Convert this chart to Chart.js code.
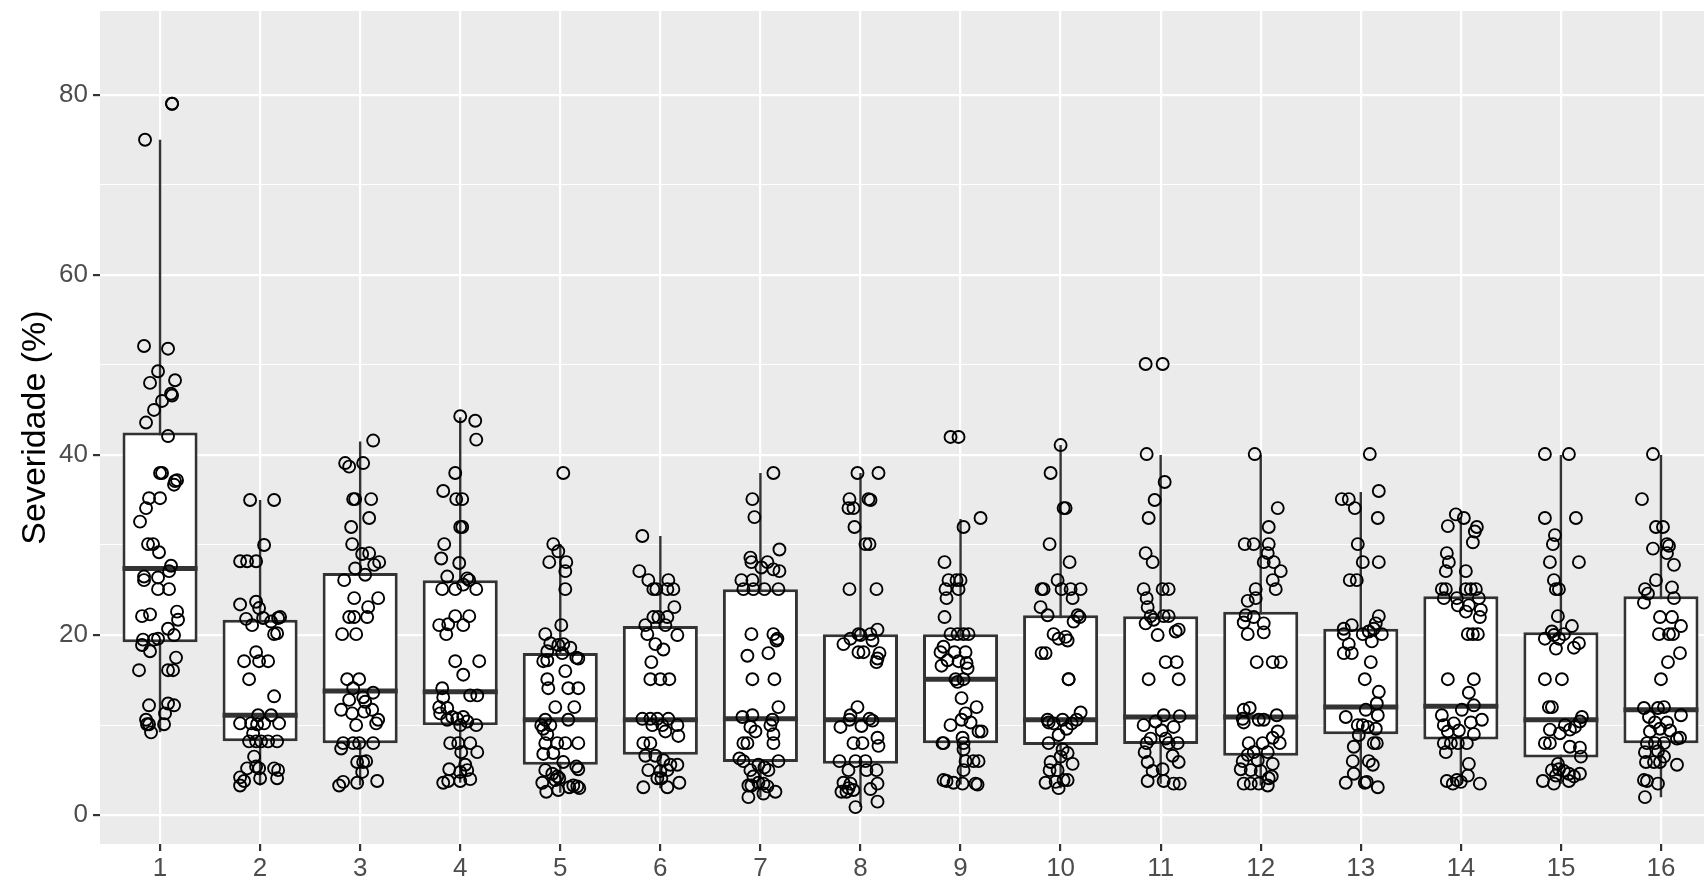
<!DOCTYPE html>
<html>
<head>
<meta charset="utf-8">
<script src="https://cdn.jsdelivr.net/npm/chart.js@4"></script>
<style>
  html, body { margin: 0; padding: 0; background: #ffffff; }
  #wrap { width: 1704px; height: 881px; }
</style>
</head>
<body>
<div id="wrap"><canvas id="boxChart" width="1704" height="881"></canvas></div>
<script>
// categories (x axis) and box statistics
const categories = [1, 2, 3, 4, 5, 6, 7, 8, 9, 10, 11, 12, 13, 14, 15, 16];
const whiskerLow  = [9.2, 3.3, 3.3, 3.6, 2.5, 3.0, 2.0, 0.9, 3.4, 3.0, 3.5, 3.3, 3.1, 3.5, 3.5, 2.0];
const q1          = [19.2, 8.2, 8.0, 10.0, 5.6, 6.7, 5.9, 5.7, 8.0, 7.8, 7.9, 6.6, 9.0, 8.4, 6.4, 8.0];
const median      = [27.4, 11.1, 13.8, 13.7, 10.6, 10.6, 10.7, 10.6, 15.1, 10.6, 10.9, 10.9, 12.0, 12.1, 10.6, 11.7];
const q3          = [42.5, 21.7, 26.9, 26.1, 18.0, 21.0, 25.1, 20.1, 20.1, 22.2, 22.1, 22.6, 20.7, 24.3, 20.3, 24.3];
const whiskerHigh = [75.0, 35.0, 41.5, 44.2, 30.1, 31.0, 38.0, 38.0, 32.9, 41.1, 40.0, 40.0, 35.9, 33.1, 40.0, 40.0];

const yMajor = [0, 20, 40, 60, 80];
const yMinor = [10, 30, 50, 70];

// jittered observations per category: [offset from category, severity %]
const obs1 = [[0.12,79],[0.12,79.0],[-0.15,75],[-0.16,52.1],[0.08,51.8],[-0.02,49.3],[-0.10,48.0],[0.15,48.3],[0.11,46.8],[0.12,46.6],[0.02,46.0],[-0.06,45.0],[-0.14,43.6],[0.08,42.1],[0.02,38.0],[0.0,38.0],[0.15,37.1],[0.14,36.7],[0.17,37.2],[-0.11,35.2],[0.0,35.2],[-0.14,34.1],[-0.20,32.6],[-0.12,30.1],[-0.07,30.1],[-0.01,29.2],[0.11,27.7],[0.09,27.1],[-0.16,26.5],[-0.16,26.1],[-0.02,26.4],[-0.02,25.1],[0.09,25.1],[-0.18,22.1],[-0.10,22.3],[0.17,22.6],[0.18,21.7],[0.08,20.7],[0.14,20.0],[-0.02,19.6],[-0.06,19.5],[-0.17,19.5],[-0.18,18.9],[-0.10,18.2],[0.16,17.5],[-0.21,16.1],[0.08,16.1],[0.13,16.1],[-0.11,12.2],[0.08,12.4],[0.14,12.2],[0.05,11.3],[-0.14,10.6],[-0.11,10.1],[-0.09,9.2],[-0.13,10.1],[0.04,10.1]];
const obs2 = [[-0.10,35.0],[0.14,35.0],[0.04,30.0],[-0.20,28.2],[-0.13,28.2],[-0.04,28.2],[-0.20,23.4],[-0.04,23.7],[-0.01,23.0],[-0.14,21.8],[-0.08,21.1],[0.03,21.9],[0.11,21.5],[0.18,21.9],[0.20,22.0],[0.14,20.1],[0.17,20.2],[-0.04,18.1],[-0.16,17.1],[-0.01,17.1],[0.08,17.1],[-0.11,15.1],[0.14,13.2],[-0.20,10.2],[-0.09,10.2],[-0.03,10.1],[0.04,10.2],[0.11,11.1],[0.19,10.2],[-0.02,11.1],[-0.07,9.1],[-0.11,8.2],[-0.04,8.2],[0.08,8.2],[0.17,8.2],[0.01,8.2],[-0.06,6.5],[-0.04,5.4],[0.14,5.2],[0.18,5.0],[-0.13,5.2],[-0.01,5.2],[-0.20,4.2],[-0.16,3.8],[-0.20,3.3],[0.0,4.1],[0.17,4.1]];
const obs3 = [[0.13,41.6],[-0.15,39.1],[-0.11,38.7],[0.03,39.1],[-0.07,35.1],[-0.05,35.1],[0.11,35.1],[0.09,33.0],[-0.09,32.0],[-0.08,30.1],[0.02,29.0],[0.09,29.1],[0.14,27.8],[0.19,28.1],[-0.05,27.4],[0.05,26.7],[-0.16,26.1],[-0.06,24.1],[0.18,24.1],[0.08,23.1],[-0.11,22.0],[-0.06,22.0],[0.07,22.0],[-0.18,20.1],[-0.04,20.1],[-0.13,15.1],[-0.01,15.1],[-0.07,14.1],[0.13,13.6],[0.03,13.1],[-0.11,12.8],[0.05,12.6],[-0.19,11.7],[-0.08,11.3],[0.12,11.7],[0.04,11.5],[0.18,10.6],[0.16,10.2],[-0.04,10.0],[-0.17,8.0],[-0.07,8.0],[-0.01,8.0],[0.13,8.0],[-0.19,7.4],[-0.03,5.9],[0.03,5.9],[0.06,6.0],[0.02,4.8],[-0.21,3.3],[-0.17,3.7],[-0.03,3.6],[0.17,3.8]];
const obs4 = [[0.0,44.3],[0.15,43.8],[0.16,41.7],[-0.05,38.0],[-0.17,36.0],[-0.04,35.1],[0.02,35.1],[0.0,32.0],[0.02,32.0],[-0.16,30.1],[-0.19,28.5],[-0.01,28.0],[-0.13,26.5],[0.07,26.3],[0.09,26.1],[-0.18,25.1],[-0.05,25.1],[0.03,25.6],[0.16,25.1],[-0.05,22.1],[0.09,22.1],[-0.12,21.2],[0.03,21.1],[-0.21,21.1],[-0.14,20.1],[-0.05,17.1],[0.19,17.1],[0.03,15.6],[-0.18,14.1],[-0.17,13.1],[0.10,13.3],[0.17,13.3],[-0.21,12.0],[-0.13,11.9],[-0.20,11.3],[-0.08,10.9],[-0.03,10.7],[0.03,10.9],[-0.13,10.6],[0.07,10.4],[0.16,10.0],[0.0,10.0],[-0.10,8.0],[-0.02,8.0],[0.10,8.0],[0.17,7.0],[0.01,7.0],[-0.11,5.1],[0.05,5.6],[0.0,4.8],[0.07,5.0],[-0.17,3.6],[-0.12,3.8],[0.0,3.8],[0.10,4.0]];
const obs5 = [[0.03,38.0],[-0.07,30.1],[-0.02,29.3],[-0.11,28.1],[0.06,28.1],[0.05,27.1],[0.05,25.1],[0.01,21.1],[-0.15,20.1],[-0.10,19.1],[-0.02,18.9],[0.03,19.0],[0.10,18.6],[-0.13,18.2],[0.02,18.0],[0.16,17.5],[0.18,17.4],[-0.17,17.1],[-0.13,17.2],[0.05,16.0],[-0.13,15.1],[-0.12,14.1],[0.08,14.1],[0.18,14.1],[-0.05,12.0],[0.14,12.0],[-0.19,10.0],[-0.15,10.6],[-0.10,10.0],[0.08,10.6],[-0.17,9.6],[-0.13,9.0],[-0.15,8.0],[-0.03,8.0],[0.05,8.0],[0.18,8.0],[-0.17,6.8],[-0.07,6.9],[0.03,5.9],[0.16,5.4],[0.18,5.1],[-0.15,5.0],[-0.08,4.6],[-0.03,4.3],[-0.01,4.1],[-0.05,3.9],[-0.18,3.6],[0.13,3.3],[0.17,3.2],[0.19,3.0],[-0.14,2.6],[-0.02,2.8],[0.09,3.1]];
const obs6 = [[-0.18,31.0],[-0.21,27.1],[-0.12,26.1],[-0.07,25.1],[-0.04,25.1],[0.08,26.1],[0.07,25.1],[0.13,25.1],[0.14,23.1],[-0.07,22.0],[-0.02,22.0],[0.07,22.0],[-0.15,21.1],[0.05,21.1],[-0.13,20.1],[0.17,20.0],[-0.05,19.0],[0.03,18.4],[-0.09,17.0],[-0.10,15.1],[0.0,15.1],[0.09,15.1],[-0.18,10.7],[-0.10,10.7],[-0.03,10.7],[0.08,10.7],[0.17,10.0],[-0.08,10.0],[0.02,10.0],[0.05,9.3],[0.18,8.8],[-0.17,8.0],[-0.10,8.0],[-0.15,6.6],[-0.05,6.6],[0.03,6.1],[0.17,5.6],[0.10,5.6],[-0.12,5.0],[0.0,4.9],[0.07,5.0],[-0.03,4.1],[0.01,4.1],[0.19,3.6],[-0.17,3.1],[0.07,3.1]];
const obs7 = [[0.13,38.0],[-0.08,35.1],[-0.06,33.1],[0.19,29.5],[-0.10,28.6],[-0.09,28.1],[0.07,28.1],[0.01,27.5],[0.13,27.3],[0.19,27.1],[-0.19,26.1],[-0.08,26.1],[-0.17,25.1],[-0.07,25.1],[0.04,25.1],[0.18,25.1],[-0.09,20.1],[0.13,20.1],[0.16,19.4],[0.17,19.6],[-0.13,17.7],[0.08,18.0],[-0.08,15.1],[0.14,15.1],[0.18,12.0],[-0.18,10.9],[-0.08,11.1],[0.12,10.6],[-0.10,9.8],[-0.05,9.3],[0.10,10.0],[0.13,9.0],[-0.17,8.0],[-0.13,8.0],[0.13,8.0],[-0.21,6.3],[-0.17,6.0],[-0.02,5.6],[0.18,6.0],[0.04,5.3],[-0.10,5.0],[0.08,5.0],[-0.07,4.3],[-0.02,3.6],[0.03,3.5],[-0.12,3.3],[-0.09,3.3],[0.07,3.2],[0.15,2.6],[0.03,2.4],[-0.12,2.0]];
const obs8 = [[-0.03,38.0],[0.18,38.0],[-0.11,35.1],[0.08,35.1],[0.10,35.0],[-0.12,34.1],[-0.07,34.1],[-0.06,32.0],[0.05,30.1],[0.09,30.1],[-0.11,25.1],[0.16,25.1],[0.17,20.6],[-0.02,20.1],[0.0,20.0],[0.10,20.1],[-0.10,19.6],[-0.17,19.0],[0.12,19.4],[-0.02,18.1],[0.03,18.1],[0.19,18.0],[0.17,17.4],[0.16,17.0],[-0.03,12.0],[-0.10,11.1],[0.09,10.7],[0.12,10.5],[-0.20,9.8],[-0.11,10.6],[0.01,9.9],[0.17,8.6],[0.18,7.7],[-0.07,8.0],[0.02,8.0],[-0.21,6.0],[-0.05,6.0],[0.05,6.0],[-0.12,5.0],[0.06,5.0],[0.16,5.0],[-0.17,3.6],[-0.10,3.5],[-0.12,3.0],[-0.19,2.6],[-0.14,2.6],[-0.07,2.8],[0.10,2.9],[0.17,3.5],[0.17,1.5],[-0.05,0.9]];
const obs9 = [[-0.10,42.0],[-0.02,42.0],[0.20,33.0],[0.03,32.0],[-0.16,28.1],[-0.12,26.1],[-0.04,26.1],[0.0,26.1],[-0.15,25.1],[-0.02,25.1],[-0.14,24.1],[-0.16,22.0],[-0.10,20.1],[-0.03,20.1],[0.03,20.1],[0.08,20.1],[-0.17,18.7],[-0.20,18.1],[-0.06,18.1],[0.05,18.1],[-0.13,17.2],[-0.02,17.1],[0.06,16.9],[-0.19,16.6],[0.07,16.3],[-0.05,15.1],[-0.03,14.8],[0.03,15.1],[0.01,13.0],[0.16,12.0],[0.05,11.3],[0.01,10.6],[0.10,10.3],[-0.10,10.0],[0.18,9.3],[0.21,9.3],[0.02,8.6],[-0.18,8.0],[-0.17,8.0],[0.03,8.0],[0.03,7.3],[0.13,6.0],[0.18,6.0],[0.05,6.0],[0.03,5.0],[-0.17,3.9],[-0.14,3.8],[-0.07,3.6],[0.02,3.5],[0.15,3.5],[0.17,3.4]];
const obs10 = [[0.0,41.1],[-0.10,38.0],[0.03,34.1],[0.05,34.1],[-0.11,30.1],[0.09,28.1],[-0.03,26.1],[-0.19,25.1],[-0.17,25.1],[0.01,25.1],[0.10,25.1],[0.20,25.1],[0.12,24.1],[-0.20,23.1],[-0.13,22.2],[0.17,22.2],[0.19,22.0],[0.13,21.5],[-0.07,20.1],[-0.02,19.6],[0.05,19.8],[0.07,19.4],[-0.19,18.0],[-0.15,18.0],[0.08,15.1],[0.08,15.1],[0.20,11.4],[-0.12,10.3],[-0.13,10.6],[-0.07,10.2],[0.02,10.6],[0.11,10.2],[0.16,10.6],[0.06,9.6],[-0.02,8.9],[-0.12,8.0],[0.02,7.3],[0.07,6.9],[0.0,6.5],[0.12,5.7],[-0.10,5.9],[-0.11,5.0],[-0.03,5.0],[0.03,3.9],[0.07,3.9],[-0.15,3.6],[-0.05,3.7],[-0.02,3.0]];
const obs11 = [[-0.15,50.1],[0.02,50.1],[-0.14,40.1],[0.04,37.0],[-0.06,35.0],[-0.12,33.0],[-0.15,29.1],[-0.08,28.1],[-0.17,25.1],[0.02,25.1],[0.08,25.1],[-0.14,24.1],[-0.13,23.1],[-0.10,22.1],[-0.07,21.7],[-0.15,21.3],[0.03,22.1],[0.08,22.1],[0.18,20.6],[0.15,20.4],[-0.03,20.0],[0.05,17.0],[0.16,17.0],[-0.12,15.1],[0.18,15.1],[0.03,11.1],[0.19,11.0],[-0.17,10.0],[-0.05,10.4],[0.01,9.4],[0.13,9.8],[-0.10,8.5],[-0.14,8.0],[0.05,8.5],[0.17,8.0],[0.08,8.0],[-0.16,7.0],[0.12,6.6],[-0.13,5.9],[0.18,5.9],[0.02,5.1],[-0.08,4.9],[-0.13,3.8],[0.03,3.8],[0.13,3.5],[0.19,3.5]];
const obs12 = [[-0.06,40.1],[0.17,34.1],[0.08,32.0],[-0.16,30.1],[-0.07,30.1],[0.08,30.1],[0.07,29.1],[0.03,28.1],[0.13,28.1],[0.20,27.1],[0.12,26.1],[-0.05,25.1],[0.15,25.1],[-0.13,23.8],[-0.05,24.1],[-0.15,22.2],[-0.07,22.0],[-0.17,21.4],[0.03,21.3],[-0.13,20.1],[0.03,20.3],[-0.04,17.0],[0.12,17.0],[0.20,17.0],[-0.17,11.7],[-0.11,11.9],[-0.18,10.7],[-0.17,10.3],[-0.02,10.6],[0.03,10.6],[0.16,11.1],[0.17,9.3],[0.12,8.6],[0.19,8.0],[-0.12,8.0],[0.02,8.0],[-0.07,7.0],[0.07,7.0],[-0.13,6.7],[-0.18,6.0],[-0.03,6.1],[0.12,5.7],[-0.20,5.1],[-0.10,5.0],[0.0,4.9],[0.08,4.1],[-0.17,3.5],[-0.10,3.5],[-0.02,3.5],[0.07,3.3],[0.11,4.3]];
const obs13 = [[0.09,40.1],[0.18,36.0],[-0.19,35.1],[-0.12,35.1],[-0.06,34.1],[0.17,33.0],[-0.03,30.1],[0.02,28.1],[0.18,28.1],[-0.11,26.1],[-0.04,26.1],[0.18,22.1],[-0.09,21.1],[-0.17,20.7],[0.15,21.3],[0.13,20.7],[0.08,20.4],[0.02,20.1],[0.21,20.1],[-0.17,20.1],[0.11,19.3],[-0.12,19.0],[-0.17,18.0],[-0.09,18.0],[0.10,17.0],[0.04,15.1],[0.18,13.7],[0.16,12.4],[0.05,11.7],[-0.15,10.9],[0.17,11.1],[-0.03,10.0],[0.02,10.0],[0.07,9.8],[0.15,9.6],[-0.02,8.9],[0.13,8.0],[0.16,8.0],[-0.07,7.6],[-0.08,6.0],[0.08,6.0],[0.12,5.6],[-0.07,4.6],[-0.15,3.6],[0.04,3.6],[0.17,3.1],[0.06,3.7]];
const obs14 = [[-0.05,33.4],[0.03,33.0],[-0.13,32.1],[0.16,32.0],[0.14,31.5],[0.12,30.3],[-0.14,29.1],[-0.12,28.1],[-0.15,27.1],[0.05,27.1],[-0.19,25.1],[-0.15,25.1],[0.05,25.1],[0.10,25.1],[0.15,25.1],[-0.17,24.1],[-0.04,24.1],[0.18,24.1],[-0.03,23.3],[0.08,23.3],[0.20,22.8],[0.05,22.6],[0.19,22.0],[0.07,20.1],[0.12,20.1],[0.17,20.1],[-0.13,15.1],[0.13,15.1],[0.08,13.6],[0.13,12.2],[0.01,11.7],[-0.19,11.1],[0.21,10.6],[-0.17,10.0],[-0.07,10.2],[0.10,10.3],[-0.13,9.3],[-0.02,9.4],[0.13,9.0],[-0.17,8.0],[-0.10,8.0],[-0.03,8.0],[0.06,8.0],[-0.15,7.0],[0.08,5.7],[0.07,4.4],[-0.14,3.8],[-0.08,3.5],[0.0,3.7],[0.19,3.5],[-0.04,3.9]];
const obs15 = [[-0.16,40.1],[0.08,40.1],[-0.16,33.0],[0.15,33.0],[-0.06,31.1],[-0.08,30.1],[-0.11,28.1],[0.18,28.1],[-0.07,26.1],[-0.05,25.1],[-0.02,25.1],[-0.03,22.1],[0.11,21.0],[-0.09,20.4],[-0.16,19.6],[-0.07,20.0],[-0.02,19.6],[0.03,20.1],[0.18,19.1],[0.13,18.6],[-0.05,18.5],[-0.16,15.1],[0.01,15.1],[-0.12,12.0],[-0.09,12.0],[0.21,10.9],[0.19,10.4],[0.14,9.8],[0.04,10.0],[0.09,9.5],[-0.11,9.5],[-0.01,9.1],[-0.16,8.0],[-0.11,8.0],[0.09,7.6],[0.19,7.5],[0.20,6.5],[-0.03,5.7],[-0.09,5.0],[-0.02,5.1],[0.03,4.9],[0.19,4.6],[-0.05,4.4],[0.08,4.6],[0.13,4.3],[-0.18,3.8],[-0.07,3.5],[0.08,3.8]];
const obs16 = [[-0.08,40.1],[-0.19,35.1],[-0.05,32.0],[0.02,32.0],[-0.08,29.6],[0.06,30.1],[0.08,29.9],[0.06,29.1],[0.13,27.8],[-0.05,26.1],[-0.16,25.1],[-0.13,24.6],[-0.17,23.6],[0.11,25.3],[0.13,24.1],[-0.01,22.0],[0.11,22.0],[0.20,21.0],[-0.02,20.1],[0.08,20.1],[0.12,20.1],[0.19,18.0],[0.07,17.0],[0.0,15.1],[-0.17,11.9],[-0.03,11.9],[0.03,12.0],[-0.12,10.9],[0.20,11.1],[-0.06,10.3],[0.06,10.3],[-0.11,9.3],[-0.01,9.6],[0.09,9.4],[0.16,8.5],[0.19,8.6],[-0.14,8.0],[-0.06,8.0],[0.03,8.0],[-0.16,7.0],[-0.03,7.1],[-0.15,5.9],[-0.07,5.9],[-0.01,5.9],[0.03,6.5],[0.16,5.6],[-0.17,3.9],[-0.14,3.8],[-0.03,3.5],[-0.16,2.0]];

const observations = [obs1, obs2, obs3, obs4, obs5, obs6, obs7, obs8, obs9, obs10, obs11, obs12, obs13, obs14, obs15, obs16];

// build library data from the arrays above
const whiskerData = [];
categories.forEach((c, i) => {
    whiskerData.push({ x: c, y: whiskerLow[i] }, { x: c, y: whiskerHigh[i] }, { x: c, y: null });
});
const boxData = categories.map((c, i) => ({ x: c, y: [q1[i], q3[i]] }));
const medianData = categories.map((c, i) => ({ x: c, y: median[i] }));
const pointData = [];
categories.forEach((c, i) => {
    observations[i].forEach(([dx, v]) => pointData.push({ x: c + dx, y: v }));
});

const panelBackground = {
    id: 'panelBackground',
    beforeDraw(chart) {
        const { ctx, chartArea } = chart;
        ctx.save();
        ctx.fillStyle = '#EBEBEB';
        ctx.fillRect(chartArea.left, chartArea.top, chartArea.width, chartArea.height);
        ctx.restore();
    }
};

const fontFamily = "'Liberation Sans', Arial, sans-serif";
const tickFont = { family: fontFamily, size: 26 };
const isMajor = v => yMajor.includes(v);

// keep the panel where ggplot put it: no extra label padding around the axes
const noLabelPadding = scale => {
    scale.paddingTop = 0;
    scale.paddingBottom = 0;
    scale.paddingLeft = 0;
    scale.paddingRight = 0;
};

new Chart(document.getElementById('boxChart').getContext('2d'), {
    type: 'scatter',
    data: {
        datasets: [
            {
                type: 'scatter',
                data: pointData,
                order: 0,
                pointStyle: 'circle',
                pointRadius: 6,
                borderWidth: 1.9,
                borderColor: '#000000',
                backgroundColor: 'rgba(0,0,0,0)'
            },
            {
                type: 'scatter',
                data: medianData,
                order: 1,
                pointStyle: 'line',
                pointRadius: 37.5,
                borderWidth: 5,
                borderColor: '#333333'
            },
            {
                type: 'bar',
                data: boxData,
                order: 2,
                backgroundColor: '#FFFFFF',
                borderColor: '#333333',
                borderWidth: 3,
                borderSkipped: false,
                barPercentage: 0.75,
                categoryPercentage: 1.0
            },
            {
                type: 'line',
                data: whiskerData,
                order: 3,
                borderColor: '#333333',
                borderWidth: 2.4,
                pointRadius: 0,
                spanGaps: false,
                fill: false
            }
        ]
    },
    options: {
        responsive: false,
        animation: false,
        events: [],
        layout: { autoPadding: false, padding: { top: 11, left: 0, right: 0, bottom: 0 } },
        plugins: {
            legend: { display: false },
            tooltip: { enabled: false }
        },
        scales: {
            x: {
                type: 'linear',
                min: 0.4,
                max: 16.43,
                offset: false,
                afterBuildTicks: scale => { scale.ticks = categories.map(v => ({ value: v })); },
                afterFit: scale => { scale.height = 37; noLabelPadding(scale); },
                border: { display: false },
                grid: {
                    offset: false,
                    color: '#FFFFFF',
                    lineWidth: 2.2,
                    tickColor: '#333333',
                    tickWidth: 2.2,
                    tickLength: 7
                },
                ticks: {
                    color: '#4D4D4D',
                    font: tickFont,
                    padding: 2,
                    maxRotation: 0,
                    autoSkip: false
                }
            },
            y: {
                min: -3.2,
                max: 89.3,
                afterBuildTicks: scale => {
                    scale.ticks = yMajor.concat(yMinor).sort((a, b) => a - b).map(v => ({ value: v }));
                },
                afterFit: scale => { scale.width = 100; noLabelPadding(scale); },
                border: { display: false },
                grid: {
                    color: '#FFFFFF',
                    lineWidth: ctx => (isMajor(ctx.tick.value) ? 2.2 : 1.1),
                    tickColor: ctx => (isMajor(ctx.tick.value) ? '#333333' : 'rgba(0,0,0,0)'),
                    tickWidth: 2.2,
                    tickLength: 7
                },
                ticks: {
                    color: '#4D4D4D',
                    font: tickFont,
                    padding: 5,
                    autoSkip: false,
                    callback: v => (isMajor(v) ? String(v) : '')
                },
                title: {
                    display: true,
                    text: 'Severidade (%)',
                    color: '#000000',
                    font: { family: fontFamily, size: 34 },
                    padding: { top: 15, bottom: 0 }
                }
            }
        }
    },
    plugins: [panelBackground]
});
</script>
</body>
</html>
